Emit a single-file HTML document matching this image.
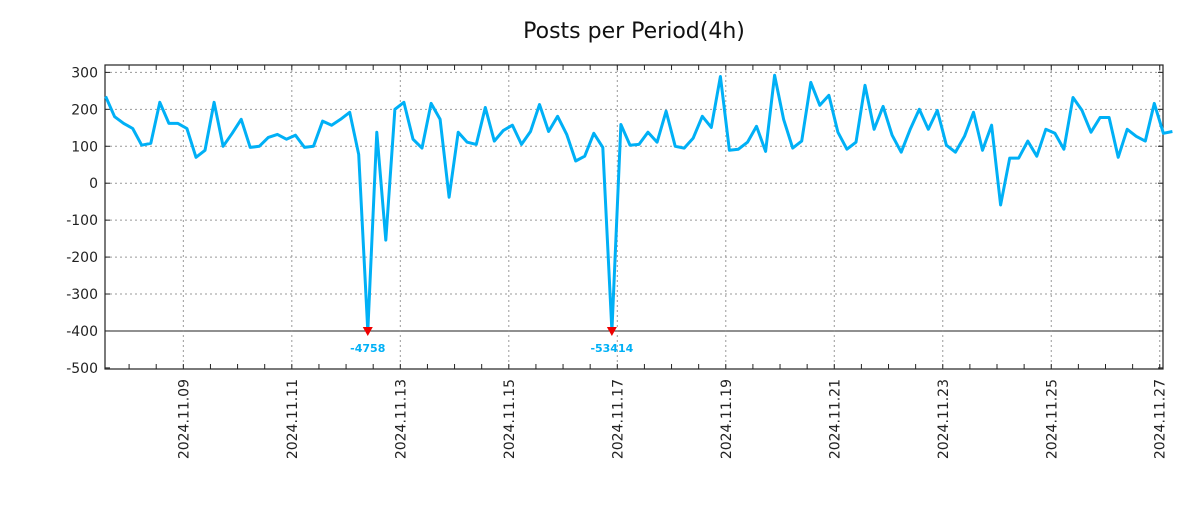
<!DOCTYPE html>
<html><head><meta charset="utf-8"><style>
body{margin:0;background:#fff;}
svg text{font-family:"DejaVu Sans","Liberation Sans",sans-serif;}
</style></head><body>
<svg id="chart" width="1200" height="500" xmlns="http://www.w3.org/2000/svg">
<rect width="1200" height="500" fill="#fff"/>
<text x="634" y="38" font-size="22" text-anchor="middle" fill="#111">Posts per Period(4h)</text>
<g id="grid"></g><g id="axes"></g><g id="series"></g>
</svg>
<script>
const values=[235,180,162,148,103,108,219,162,162,148,70,89,219,100,135,173,97,100,124,132,119,130,97,100,168,157,173,192,78,-4758,138,-154,200,219,119,95,216,173,-38,138,111,105,205,114,143,157,105,140,213,140,181,132,60,73,135,97,-53414,159,103,105,138,111,195,100,95,122,181,151,289,89,92,111,154,86,292,173,95,114,273,211,238,138,92,111,265,146,208,130,84,146,200,146,197,103,84,127,192,89,157,-59,68,68,114,73,146,135,92,232,197,138,178,178,70,146,127,114,216,135,140];
const yTicks=[300,200,100,0,-100,-200,-300,-400,-500];
const dateLabels=["2024.11.09","2024.11.11","2024.11.13","2024.11.15","2024.11.17","2024.11.19","2024.11.21","2024.11.23","2024.11.25","2024.11.27"];
const labelDays=[9,11,13,15,17,19,21,23,25,27];
const startDay=7.5667, stepDay=1/6, clipMin=-400;
const L=105,R=1163,T=65,B=369, d0=7.556, d1=27.06, yMax=320, yMin=-503;
const X=d=>L+(d-d0)/(d1-d0)*(R-L);
const Y=v=>T+(yMax-v)/(yMax-yMin)*(B-T);
const NS="http://www.w3.org/2000/svg";
function mk(tag,attrs,parent){const e=document.createElementNS(NS,tag);for(const k in attrs)e.setAttribute(k,attrs[k]);parent.appendChild(e);return e;}
const grid=document.getElementById('grid'),axes=document.getElementById('axes'),ser=document.getElementById('series');
yTicks.forEach(v=>{
 if(v>-500&&v!==-400){const g=mk('line',{x1:L,x2:R,y1:Y(v),y2:Y(v),stroke:'#999','stroke-dasharray':'2,3'},grid);
 
 }
 const t=mk('text',{x:98,y:Y(v)+5,'font-size':14,'text-anchor':'end',fill:'#222'},axes);t.textContent=v;
 
 
 mk('line',{x1:L,x2:L+5,y1:Y(v),y2:Y(v),stroke:'#222'},axes);
 mk('line',{x1:R-5,x2:R,y1:Y(v),y2:Y(v),stroke:'#222'},axes);
});
const zl=mk('line',{x1:L,x2:R,y1:Y(-400),y2:Y(-400),stroke:'#222','stroke-width':1},grid);


labelDays.forEach((d,i)=>{
 const x=X(d);
 const g=mk('line',{x1:x,x2:x,y1:T,y2:B,stroke:'#999','stroke-dasharray':'2,3'},grid);
 
 
 const t=mk('text',{x:0,y:0,'font-size':14,'text-anchor':'end',fill:'#222',transform:`translate(${x+5},${B+10}) rotate(-90)`},axes);
 t.textContent=dateLabels[i];
 
 
});
for(let d=8;d<=27;d+=0.5){const x=X(d);mk('line',{x1:x,x2:x,y1:T,y2:T+5,stroke:'#222'},axes);mk('line',{x1:x,x2:x,y1:B-5,y2:B,stroke:'#222'},axes);}
const box=mk('rect',{x:L,y:T,width:R-L,height:B-T,fill:'none',stroke:'#222','stroke-width':1.2},axes);


let pts=values.map((v,i)=>X(startDay+i*stepDay).toFixed(1)+','+Y(Math.max(v,clipMin)).toFixed(1)).join(' ');
const line=mk('polyline',{points:pts,fill:'none',stroke:'#00b0f6','stroke-width':3,'stroke-linejoin':'round'},ser);


values.forEach((v,i)=>{
 if(v<clipMin){
  const x=X(startDay+i*stepDay),y=Y(clipMin);
  const m=mk('path',{d:`M${x-5},${y-4}L${x+5},${y-4}L${x},${y+5}Z`,fill:'#e00'},ser);
  
  
  const t=mk('text',{x:x,y:y+21,'font-size':11,'font-weight':'bold','text-anchor':'middle',fill:'#00b0f6'},ser);
  t.textContent=v;
  
  
 }
});
</script>
</body></html>
